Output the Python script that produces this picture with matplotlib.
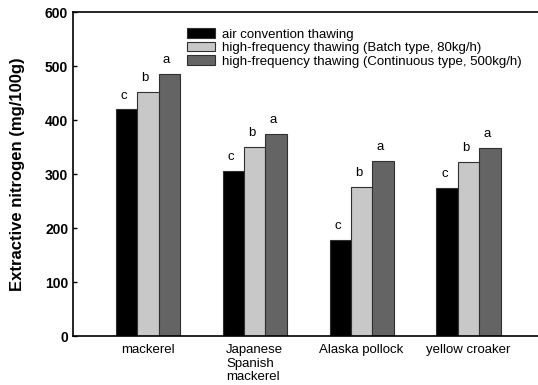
import numpy as np
import matplotlib
matplotlib.use('Agg')
import matplotlib.pyplot as plt

plt.rcParams['font.family'] = ['Liberation Sans', 'DejaVu Sans']

categories = ['mackerel', 'Japanese\nSpanish\nmackerel', 'Alaska pollock', 'yellow croaker']
series_names = ['air convention thawing',
                'high-frequency thawing (Batch type, 80kg/h)',
                'high-frequency thawing (Continuous type, 500kg/h)']
air = [420, 306, 178, 274]
batch = [452, 350, 276, 322]
continuous = [485, 374, 324, 348]
letters = [['c', 'c', 'c', 'c'], ['b', 'b', 'b', 'b'], ['a', 'a', 'a', 'a']]

colors = ['#000000', '#c8c8c8', '#646464']

fig = plt.figure(figsize=(5.38, 3.85), dpi=100)
ax = fig.add_axes([73 / 538, 1 - 336 / 385, 1 - 73 / 538, (336 - 12) / 385])

x = np.arange(len(categories))
w = 0.2
for i, vals in enumerate([air, batch, continuous]):
    pos = x + (i - 1) * w
    ax.bar(pos, vals, width=w, color=colors[i], edgecolor='#303030',
           linewidth=0.8, label=series_names[i])
    for p, v, t in zip(pos, vals, letters[i]):
        ax.annotate(t, (p, v), xytext=(-2, 5.5), textcoords='offset points',
                    ha='center', va='bottom', fontsize=9.5)

ax.set_xlim(-0.70, 3.65)
ax.set_ylim(0, 600)
ax.set_yticks(range(0, 601, 100))
ax.set_xticks(x)
ax.set_xticklabels(categories, fontsize=9.5, multialignment='left', va='top',
                   linespacing=1.15)
ax.tick_params(axis='x', length=0, pad=6)
ax.tick_params(axis='y', direction='in', length=3, width=1, labelsize=10)
for lab in ax.get_yticklabels():
    lab.set_fontweight('bold')
ax.set_ylabel('Extractive nitrogen (mg/100g)', fontsize=12, fontweight='bold', labelpad=14)

for s in ['left', 'bottom', 'top']:
    ax.spines[s].set_linewidth(1.2)
ax.spines['right'].set_visible(False)

ax.legend(loc='upper left', bbox_to_anchor=(0.245, 0.95), frameon=False,
          fontsize=9.5, borderpad=0, borderaxespad=0, labelspacing=0.1,
          handlelength=2.1, handleheight=0.72, handletextpad=0.55)

fig.savefig('out.png', dpi=100)
